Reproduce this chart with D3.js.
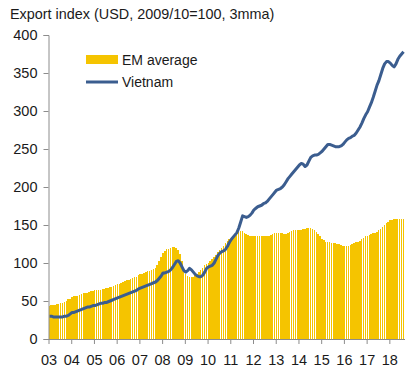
<!DOCTYPE html>
<html><head><meta charset="utf-8">
<script src="https://cdn.jsdelivr.net/npm/d3@7"></script>
<style>body{margin:0;background:#fff}svg{display:block}text{font-family:"Liberation Sans",Arial,sans-serif;fill:#1a1a1a}</style>
</head><body><svg id="c" width="420" height="379"></svg>
<script>
const title = "Export index (USD, 2009/10=100, 3mma)";
const yearLabels = ["03","04","05","06","07","08","09","10","11","12","13","14","15","16","17","18"];
const yTicks = [0,50,100,150,200,250,300,350,400];
const seriesNames = ["EM average","Vietnam"];
const emAverage = [
 44,45,45,45,46,46,47,48,49,50,52,53,
 55,56,57,57,58,59,60,60,61,62,63,63,
 64,64,65,65,66,66,67,67,68,69,70,71,
 72,73,74,75,76,77,78,79,80,81,82,84,
 85,86,87,88,89,90,91,92,94,97,102,108,
 113,116,118,119,120,121,121,120,117,112,102,92,
 86,83,82,81,82,84,86,88,91,94,97,99,
 100,102,105,108,111,114,117,120,123,126,129,131,
 132,135,138,140,141,142,142,140,138,137,136,136,
 136,136,136,136,136,135,135,135,136,137,138,139,
 140,140,140,139,138,138,139,141,142,143,143,143,
 144,144,145,145,146,146,146,145,143,141,138,135,
 132,130,128,127,127,126,126,126,125,125,124,123,
 123,122,123,124,125,126,127,128,129,131,133,135,
 136,137,138,139,140,141,143,145,148,150,152,154,
 156,157,158,158,158,158,158,158
];
const vietnam = [
 30,30,29,29,29,29,29,29,30,30,31,33,
 35,35,36,37,38,39,40,41,42,42,43,44,
 44,45,46,47,47,48,48,49,50,51,52,53,
 54,55,56,57,58,59,60,61,62,63,64,66,
 67,68,69,70,71,72,73,74,75,77,80,83,
 87,87,88,89,91,94,98,102,103,100,95,90,
 88,90,93,91,88,85,83,82,82,84,88,93,
 95,96,97,100,105,110,113,115,116,118,122,127,
 131,134,137,140,146,154,162,161,160,161,163,166,
 170,172,174,175,176,178,179,181,184,187,190,193,
 196,197,198,200,203,207,211,214,217,220,223,226,
 229,231,230,227,229,234,239,241,242,242,243,245,
 247,250,253,256,256,255,254,253,253,253,254,256,
 259,262,264,265,267,268,271,275,279,284,290,295,
 299,305,311,318,326,334,340,348,356,362,365,365,
 363,360,358,362,368,372,375,378
];

const svg = d3.select("#c");
const pLeft = 48.5, pRight = 404.5, pTop = 35, pBottom = 339;
const n = emAverage.length;
const months = d3.range(n);
const x = d3.scaleBand().domain(months).range([pLeft, pLeft + (pRight-pLeft)*n/188]).padding(0);
const step = x.step();
const y = d3.scaleLinear().domain([0,400]).range([pBottom, pTop]);
const yellow = "#F5C400", blue = "#3B5D8F", axisCol = "#8c8c8c";

svg.append("text").attr("x",10).attr("y",19).attr("font-size",14.4).text(title);

svg.append("g").selectAll("rect").data(months).join("rect")
  .attr("x", d => x(d)).attr("width", Math.max(step - 0.4, 0.5))
  .attr("y", d => y(emAverage[d])).attr("height", d => pBottom - y(emAverage[d]))
  .attr("fill", yellow).attr("shape-rendering","crispEdges");

const line = d3.line().x(d => x(d) + step/2).y(d => y(vietnam[d]));
svg.append("path").datum(months).attr("d", line).attr("fill","none")
  .attr("stroke", blue).attr("stroke-width", 3).attr("stroke-linejoin","round");

const yAxis = svg.append("g").attr("transform",`translate(${pLeft},0)`)
  .call(d3.axisLeft(y).tickValues(yTicks).tickSize(5).tickPadding(6));
yAxis.select(".domain").attr("stroke", axisCol);
yAxis.selectAll(".tick line").attr("stroke", axisCol);
yAxis.selectAll("text").attr("font-size",14.5).attr("font-family",'"Liberation Sans",Arial,sans-serif').attr("fill","#1a1a1a");

const yearIdx = yearLabels.map((l,i) => i*12);
const xa = d3.scaleLinear().domain([0, 188]).range([pLeft, pRight]);
const xAxis = svg.append("g").attr("transform",`translate(0,${pBottom})`)
  .call(d3.axisBottom(xa).tickValues(yearIdx).tickFormat((d,i) => yearLabels[i]).tickSize(5).tickPadding(11).tickSizeOuter(0));
xAxis.select(".domain").attr("stroke", axisCol);
xAxis.selectAll(".tick line").attr("stroke", axisCol);
xAxis.selectAll("text").attr("font-size",14.5).attr("font-family",'"Liberation Sans",Arial,sans-serif').attr("fill","#1a1a1a");

const lg = svg.append("g");
lg.append("rect").attr("x",86).attr("y",55).attr("width",32).attr("height",9).attr("fill",yellow);
lg.append("text").attr("x",122).attr("y",65).attr("font-size",14).text(seriesNames[0]);
lg.append("line").attr("x1",86).attr("x2",118).attr("y1",82).attr("y2",82).attr("stroke",blue).attr("stroke-width",3);
lg.append("text").attr("x",122).attr("y",87).attr("font-size",14).text(seriesNames[1]);
</script></body></html>
